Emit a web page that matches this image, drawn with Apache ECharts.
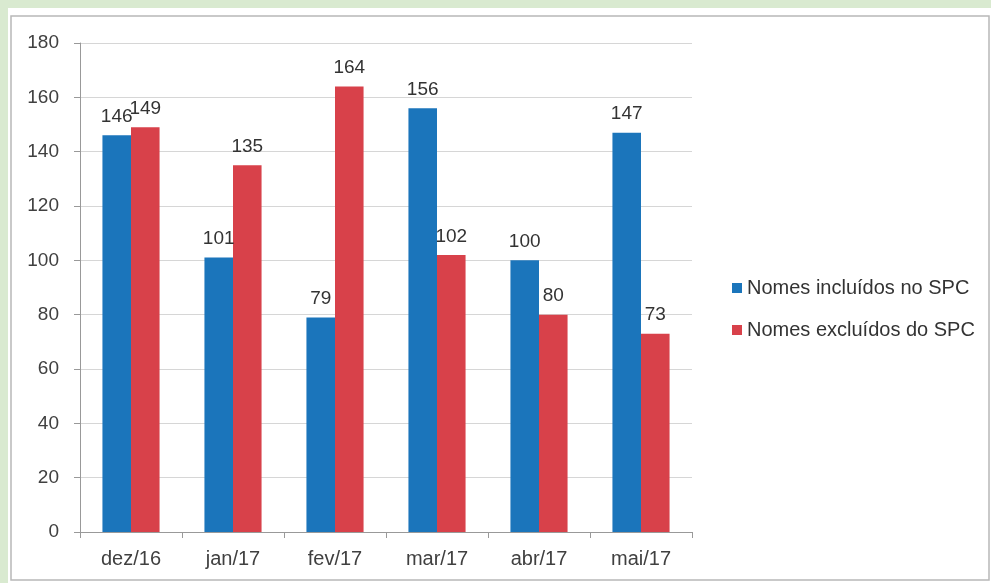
<!DOCTYPE html>
<html>
<head>
<meta charset="utf-8">
<script src="https://cdn.jsdelivr.net/npm/echarts@6/dist/echarts.min.js"></script>
<style>
html,body{margin:0;padding:0;background:#d9ead0;}
#chart{width:991px;height:583px;}
</style>
</head>
<body>
<div id="chart"></div>
<script>
const categories = ['dez/16','jan/17','fev/17','mar/17','abr/17','mai/17'];
const incluidos = [146,101,79,156,100,147];
const excluidos = [149,135,164,102,80,73];
const seriesNames = ['Nomes incluídos no SPC','Nomes excluídos do SPC'];

const chart = echarts.init(document.getElementById('chart'));
const font = 'Liberation Sans, Arial, sans-serif';
chart.setOption({
  backgroundColor: '#d9ead0',
  animation: false,
  graphic: [
    {type:'rect', shape:{x:8,y:8,width:983,height:575}, style:{fill:'#ffffff'}, z:-10},
    {type:'rect', shape:{x:11,y:16,width:978,height:564}, style:{fill:'#ffffff', stroke:'#b8b8b8', lineWidth:1.5}, z:-9}
  ],
  grid: {left:80, top:43, width:612, height:489, containLabel:false},
  legend: {
    orient:'vertical', left:727, top:273, itemGap:22, itemWidth:10, itemHeight:10,
    icon:'rect',
    textStyle:{fontFamily:font, fontSize:20, color:'#333'},
    data: seriesNames
  },
  xAxis: {
    type:'category', data:categories,
    axisLine:{lineStyle:{color:'#999'}},
    axisTick:{show:true, length:6, lineStyle:{color:'#999'}},
    axisLabel:{fontFamily:font, fontSize:20, color:'#404040', margin:17}
  },
  yAxis: {
    type:'value', min:0, max:180, interval:20,
    axisLine:{show:true, lineStyle:{color:'#999'}},
    axisTick:{show:true, length:6, lineStyle:{color:'#999'}},
    splitLine:{lineStyle:{color:'#d6d6d6'}},
    axisLabel:{fontFamily:font, fontSize:19, color:'#404040', margin:21}
  },
  series: [
    {name:seriesNames[0], type:'bar', data:incluidos, barGap:'0%', barCategoryGap:'44%',
     itemStyle:{color:'#1b75bb'},
     label:{show:true, position:'top', distance:9, fontFamily:font, fontSize:19, color:'#333'}},
    {name:seriesNames[1], type:'bar', data:excluidos, barGap:'0%', barCategoryGap:'44%',
     itemStyle:{color:'#d8414a'},
     label:{show:true, position:'top', distance:9, fontFamily:font, fontSize:19, color:'#333'}}
  ]
});
</script>
</body>
</html>
